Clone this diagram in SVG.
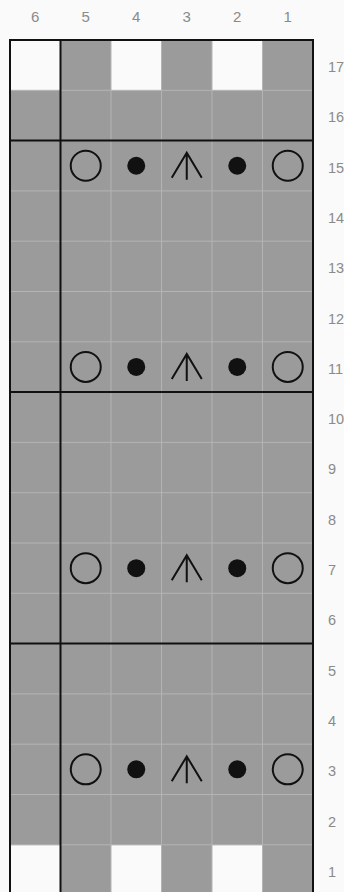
<svg xmlns="http://www.w3.org/2000/svg" xmlns:xlink="http://www.w3.org/1999/xlink" width="344" height="892" viewBox="0 0 344 892">
<style>
.lbl{font-family:"Liberation Sans",Arial,sans-serif;font-size:15px;fill:#8a8a8a;}
.col{text-anchor:middle;}
.row{font-size:14.5px;}
.thin{stroke:#b4b4b4;stroke-width:1;fill:none;}
.heavy{stroke:#111;stroke-width:2;fill:none;}
.sym{stroke:#111;stroke-width:2;fill:none;}
</style>
<defs>
<g id="ring"><circle cx="0" cy="0" r="15" class="sym"/></g>
<g id="dot"><circle cx="0" cy="0" r="9" fill="#111"/></g>
<g id="dec"><path d="M-15,12 L0,-13 L15,12 M0,-13 L0,14" class="sym" stroke-linejoin="miter"/></g>
</defs>
<rect x="0" y="0" width="344" height="892" fill="#fafafa"/>
<g id="grid">
<rect x="10" y="40" width="303" height="852" fill="#9b9b9b"/>
<rect x="10" y="40" width="50.5" height="50.3" fill="#fafafa"/>
<rect x="111" y="40" width="50.5" height="50.3" fill="#fafafa"/>
<rect x="212" y="40" width="50.5" height="50.3" fill="#fafafa"/>
<rect x="10" y="845.1" width="50.5" height="50.3" fill="#fafafa"/>
<rect x="111" y="845.1" width="50.5" height="50.3" fill="#fafafa"/>
<rect x="212" y="845.1" width="50.5" height="50.3" fill="#fafafa"/>
<path class="thin" d="M111,40V892M161.5,40V892M212,40V892M262.5,40V892
M10,90.3H313M10,190.9H313M10,241.2H313M10,291.5H313M10,341.8H313
M10,442.4H313M10,492.7H313M10,543H313M10,593.3H313
M10,693.9H313M10,744.2H313M10,794.5H313M10,844.8H313"/>
<path class="heavy" d="M10,40V892M60.5,40V892M313,40V892M9,40H314M10,140.6H313M10,392.1H313M10,643.6H313"/>
</g>
<g id="row15">
<use xlink:href="#ring" x="85.75" y="165.75"/>
<use xlink:href="#dot" x="136.25" y="165.75"/>
<use xlink:href="#dec" x="186.75" y="165.75"/>
<use xlink:href="#dot" x="237.25" y="165.75"/>
<use xlink:href="#ring" x="287.75" y="165.75"/>
</g>
<g id="row11">
<use xlink:href="#ring" x="85.75" y="366.95"/>
<use xlink:href="#dot" x="136.25" y="366.95"/>
<use xlink:href="#dec" x="186.75" y="366.95"/>
<use xlink:href="#dot" x="237.25" y="366.95"/>
<use xlink:href="#ring" x="287.75" y="366.95"/>
</g>
<g id="row7">
<use xlink:href="#ring" x="85.75" y="568.15"/>
<use xlink:href="#dot" x="136.25" y="568.15"/>
<use xlink:href="#dec" x="186.75" y="568.15"/>
<use xlink:href="#dot" x="237.25" y="568.15"/>
<use xlink:href="#ring" x="287.75" y="568.15"/>
</g>
<g id="row3">
<use xlink:href="#ring" x="85.75" y="769.35"/>
<use xlink:href="#dot" x="136.25" y="769.35"/>
<use xlink:href="#dec" x="186.75" y="769.35"/>
<use xlink:href="#dot" x="237.25" y="769.35"/>
<use xlink:href="#ring" x="287.75" y="769.35"/>
</g>
<g id="colnums" class="lbl col">
<text x="35.25" y="22">6</text>
<text x="85.75" y="22">5</text>
<text x="136.25" y="22">4</text>
<text x="186.75" y="22">3</text>
<text x="237.25" y="22">2</text>
<text x="287.75" y="22">1</text>
</g>
<g id="rownums" class="lbl row">
<text x="328" y="72">17</text>
<text x="328" y="122.3">16</text>
<text x="328" y="172.6">15</text>
<text x="328" y="222.9">14</text>
<text x="328" y="273.2">13</text>
<text x="328" y="323.5">12</text>
<text x="328" y="373.8">11</text>
<text x="328" y="424.1">10</text>
<text x="328" y="474.4">9</text>
<text x="328" y="524.7">8</text>
<text x="328" y="575">7</text>
<text x="328" y="625.3">6</text>
<text x="328" y="675.6">5</text>
<text x="328" y="725.9">4</text>
<text x="328" y="776.2">3</text>
<text x="328" y="826.5">2</text>
<text x="328" y="876.8">1</text>
</g>
</svg>
